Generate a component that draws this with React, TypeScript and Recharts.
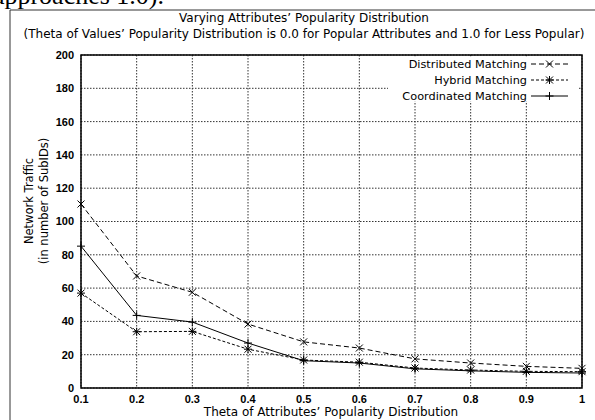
import React from 'react';
import { LineChart, Line, XAxis, YAxis, CartesianGrid, ReferenceArea, Customized } from 'recharts';

const thetas = [0.1, 0.2, 0.3, 0.4, 0.5, 0.6, 0.7, 0.8, 0.9, 1.0];
const distributed = [110.5, 67.3, 57.5, 38.4, 27.7, 24, 17.5, 15, 13, 11.8];
const hybrid = [57, 33.8, 34, 23.3, 16.8, 15.5, 12, 10.8, 10, 9.8];
const coordinated = [85.2, 43.6, 39.6, 27, 16.4, 15, 11.5, 10.3, 9.4, 9];
const yTicks = [0, 20, 40, 60, 80, 100, 120, 140, 160, 180, 200];

const seriesNames = ['Distributed Matching', 'Hybrid Matching', 'Coordinated Matching'];

const data = thetas.map((t, i) => ({
  theta: t,
  distributed: distributed[i],
  hybrid: hybrid[i],
  coordinated: coordinated[i],
}));

const FONT = '"Liberation Sans", Arial, sans-serif';
const TFONT = '"DejaVu Sans", Verdana, sans-serif';

const XMark = ({ x, y }: { x: number; y: number }) => (
  <g stroke="#000" strokeWidth={1} fill="none">
    <line x1={x - 3.5} y1={y - 3.5} x2={x + 3.5} y2={y + 3.5} />
    <line x1={x - 3.5} y1={y + 3.5} x2={x + 3.5} y2={y - 3.5} />
  </g>
);
const StarMark = ({ x, y }: { x: number; y: number }) => (
  <g stroke="#000" strokeWidth={1} fill="none">
    <line x1={x - 3.5} y1={y - 3.5} x2={x + 3.5} y2={y + 3.5} />
    <line x1={x - 3.5} y1={y + 3.5} x2={x + 3.5} y2={y - 3.5} />
    <line x1={x - 4} y1={y} x2={x + 4} y2={y} />
    <line x1={x} y1={y - 4} x2={x} y2={y + 4} />
  </g>
);
const PlusMark = ({ x, y }: { x: number; y: number }) => (
  <g stroke="#000" strokeWidth={1} fill="none">
    <line x1={x - 4} y1={y} x2={x + 4} y2={y} />
    <line x1={x} y1={y - 4} x2={x} y2={y + 4} />
  </g>
);

const dotX = (p: any) => <XMark key={p.index} x={p.cx} y={p.cy} />;
const dotStar = (p: any) => <StarMark key={p.index} x={p.cx} y={p.cy} />;
const dotPlus = (p: any) => <PlusMark key={p.index} x={p.cx} y={p.cy} />;

const Overlay = () => {
  const rows = [64, 80, 96];
  const dashes = ['5 3', '3 2', undefined];
  const marks = [XMark, StarMark, PlusMark];
  return (
    <g>
      <text x={164} y={3.5} textAnchor="end" fontFamily='"Liberation Serif", serif' fontSize={26} fill="#000">
        approaches 1.0).
      </text>
      <line x1={10} y1={10} x2={595} y2={10} stroke="#333" strokeWidth={1} />
      <line x1={10} y1={10} x2={10} y2={420} stroke="#333" strokeWidth={1} />
      <text x={304} y={22} textAnchor="middle" fontFamily={TFONT} fontSize={12} fill="#000">
        Varying Attributes’ Popularity Distribution
      </text>
      <text x={304} y={38} textAnchor="middle" fontFamily={TFONT} fontSize={12} fill="#000">
        (Theta of Values’ Popularity Distribution is 0.0 for Popular Attributes and 1.0 for Less Popular)
      </text>
      <text x={331} y={416} textAnchor="middle" fontFamily={TFONT} fontSize={12} fill="#000">
        Theta of Attributes’ Popularity Distribution
      </text>
      <text transform="translate(33,201) rotate(-90)" textAnchor="middle" fontFamily={TFONT} fontSize={11.5} fill="#000">
        Network Traffic
      </text>
      <text transform="translate(48,201) rotate(-90)" textAnchor="middle" fontFamily={TFONT} fontSize={11.5} fill="#000">
        (in number of SubIDs)
      </text>
      <rect x={388} y={56.5} width={191} height={45} fill="#fff" />
      {seriesNames.map((name, i) => {
        const M = marks[i];
        return (
          <g key={name}>
            <text x={527} y={rows[i] + 4} textAnchor="end" fontFamily={TFONT} fontSize={11.3} fill="#000">
              {name}
            </text>
            <line x1={531} y1={rows[i]} x2={568} y2={rows[i]} stroke="#000" strokeWidth={1} strokeDasharray={dashes[i]} />
            <M x={549.5} y={rows[i]} />
          </g>
        );
      })}
    </g>
  );
};

const tickStyle = { fontFamily: FONT, fontWeight: 'bold' as const, fontSize: 11, fill: '#000' };

export default function App() {
  return (
    <div style={{ position: 'absolute', left: 0, top: 0, width: 595, height: 420, background: '#fff' }}>
      <LineChart width={595} height={420} data={data} margin={{ top: 55, right: 13, left: 0, bottom: 0 }}>
        <CartesianGrid stroke="#333" strokeDasharray="1.5 1.5" strokeWidth={1} />
        <XAxis
          dataKey="theta"
          type="number"
          domain={[0.1, 1]}
          ticks={thetas}
          tickFormatter={(v: number) => (v === 1 ? '1' : v.toFixed(1))}
          axisLine={false}
          tickLine={false}
          tickSize={5}
          tickMargin={2}
          height={32}
          tick={tickStyle}
          interval={0}
        />
        <YAxis
          type="number"
          domain={[0, 200]}
          ticks={yTicks}
          axisLine={false}
          tickLine={false}
          tickSize={5}
          tickMargin={2}
          width={81}
          tick={tickStyle}
          interval={0}
        />
        <Line dataKey="distributed" stroke="#000" strokeWidth={1} strokeDasharray="5 3" dot={dotX} isAnimationActive={false} />
        <Line dataKey="hybrid" stroke="#000" strokeWidth={1} strokeDasharray="3 2" dot={dotStar} isAnimationActive={false} />
        <Line dataKey="coordinated" stroke="#000" strokeWidth={1} dot={dotPlus} isAnimationActive={false} />
        <Customized component={Overlay} />
        <ReferenceArea x1={0.1} x2={1} y1={0} y2={200} fill="none" stroke="#000" strokeWidth={1.5} fillOpacity={0} />
      </LineChart>
    </div>
  );
}
